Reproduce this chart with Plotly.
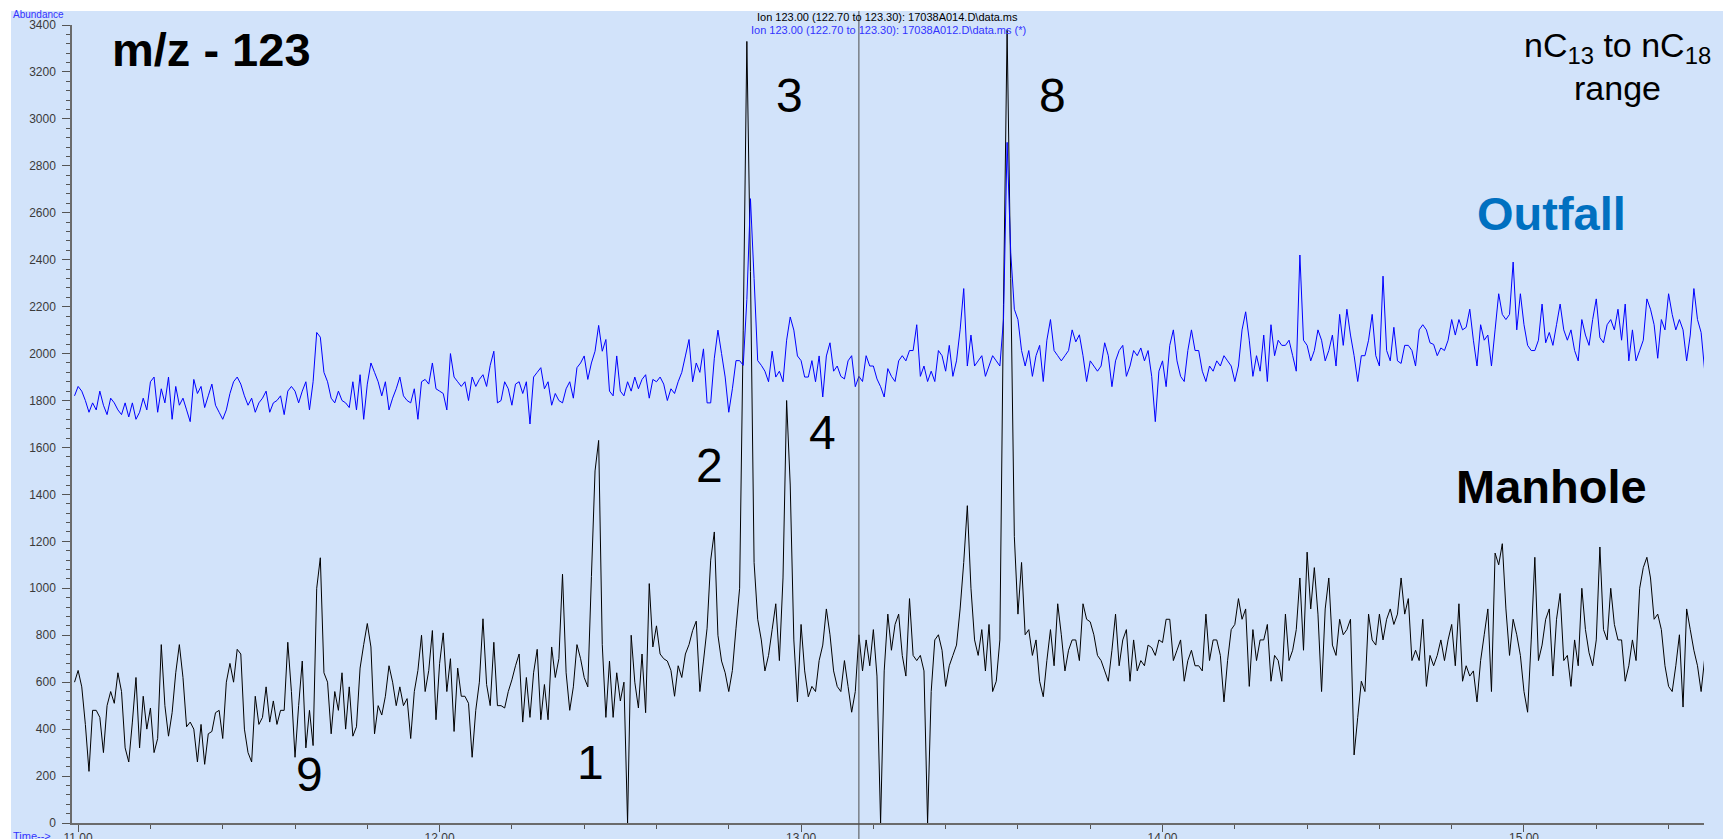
import plotly.graph_objects as go

# Extracted ion chromatogram, m/z 123 — scan time axis (min)
t_start = 10.99
t_step = 0.01

# Outfall sample (blue trace), abundance per scan
outfall = [
    1820, 1860, 1840, 1800, 1750, 1790, 1760, 1840, 1780, 1740,
    1810, 1790, 1760, 1740, 1790, 1730, 1790, 1720, 1750, 1810,
    1760, 1880, 1900, 1750, 1850, 1790, 1900, 1720, 1860, 1780,
    1810, 1760, 1710, 1890, 1830, 1860, 1770, 1820, 1870, 1780,
    1750, 1720, 1760, 1830, 1880, 1900, 1870, 1820, 1780, 1810,
    1750, 1790, 1810, 1840, 1750, 1790, 1800, 1820, 1740, 1840,
    1860, 1840, 1790, 1840, 1880, 1760, 1880, 2090, 2070, 1920,
    1880, 1810, 1790, 1840, 1800, 1790, 1770, 1880, 1760, 1910,
    1720, 1870, 1960, 1920, 1880, 1820, 1880, 1760, 1810, 1850,
    1900, 1820,
    1800, 1790, 1850, 1720, 1880, 1890, 1870, 1960, 1850, 1840,
    1830, 1760, 2000, 1900, 1880, 1860, 1880, 1800, 1900, 1860,
    1890, 1910, 1860, 1950, 2010, 1790, 1800, 1880, 1850, 1780,
    1870, 1880, 1830, 1880, 1700, 1900, 1920, 1940, 1850, 1880,
    1780, 1830, 1800, 1790, 1850, 1880, 1810, 1940, 1960, 1990,
    1890, 1960, 2010, 2120, 2010, 2060, 1840, 1820, 1990, 1840,
    1820, 1880, 1840, 1900, 1850, 1890, 1910, 1810, 1890, 1880,
    1900, 1870, 1800, 1850, 1830, 1880, 1920, 1990, 2060, 1880,
    1960, 1920, 2020, 1790, 1790, 1980, 2100, 2000, 1900, 1750,
    1850, 1970, 1970,
    1950, 2230, 2660, 2320, 1970, 1950, 1925, 1880, 2010, 1900,
    1925, 1880, 2057, 2156, 2100, 1990, 1970, 1900, 1900, 1970,
    1880, 1990, 1815, 1990, 2046, 1925, 1947, 1903, 1892, 1969,
    1991, 1859, 1903, 1881, 1991, 1947, 1947, 1892, 1859, 1815,
    1936, 1903, 1881, 1969, 1991, 1969, 2013, 2013, 2123, 1903,
    1947, 1881, 1925, 1881, 2013, 1991, 1925, 2035, 1903, 1969,
    2101, 2277, 1947, 2079, 1947, 1969, 1991, 1903, 1947, 1991,
    1969, 1947, 2145, 2900, 2431, 2189, 2145, 2013, 1947, 2013,
    1903, 1991, 2035, 1881, 2057, 2145, 2013, 1991, 1969, 1991,
    2013, 2101,
    2050, 2080, 1991, 1881, 1969, 1947, 1925, 1947, 2046, 1991,
    1859, 1969, 2013, 2035, 1903, 1947, 2013, 1991, 2024, 1969,
    2013, 1903, 1710, 1925, 1969, 1859, 2035, 2101, 1969, 1903,
    1881, 2013, 2101, 2013, 2013, 1925, 1881, 1947, 1925, 1969,
    1947, 1991, 1969, 1947, 1881, 1947, 2101, 2178, 2057, 1903,
    1991, 1925, 2079, 1881, 2123, 1991, 2057, 2035, 2035, 2057,
    1991, 1925, 2420, 2057, 2035, 1969, 2013, 2101, 2057, 1969,
    2013, 2079, 1947, 2167, 2035, 2189, 2079, 1991, 1881, 1991,
    1991, 2057, 2167, 1991, 1947, 2330, 2013, 1969, 2112, 1969,
    1958, 2035, 2035,
    2013, 1947, 2101, 2123, 2101, 2046, 2039, 1991, 2024, 2013,
    2057, 2145, 2079, 2145, 2101, 2112, 2189, 2057, 1947, 2123,
    2057, 2079, 1947, 2101, 2255, 2167, 2145, 2167, 2390, 2101,
    2255, 2123, 2035, 2013, 2013, 2057, 2211, 2046, 2090, 2035,
    2123, 2211, 2101, 2057, 2101, 2013, 1969, 2145, 2079, 2035,
    2145, 2233, 2068, 2046, 2123, 2145, 2101, 2189, 2057, 2211,
    1969, 2101, 1969, 2013, 2057, 2233, 2189, 2123, 1980, 2145,
    2101, 2255, 2167, 2101, 2145, 2101, 1969, 2079, 2277, 2145,
    2090, 1925,
]

# Manhole sample (black trace), abundance per scan
manhole = [
    600, 650, 580, 420, 220, 480, 480, 450, 300, 500,
    560, 510, 640, 560, 320, 260, 430, 620, 320, 540,
    400, 490, 300, 360, 760, 500, 370, 470, 640, 760,
    620, 410, 430, 400, 260, 420, 250, 380, 390, 470,
    480, 360, 600, 680, 600, 740, 720, 400, 300, 260,
    540, 420, 450, 580, 430, 520, 420, 480, 480, 770,
    560, 280, 500, 690, 320, 480, 330, 1000, 1130, 640,
    600, 380, 560, 480, 640, 400, 580, 370, 410, 660,
    760, 850, 750, 380, 500, 460, 540, 670, 600, 500,
    580, 500,
    530, 360, 560, 650, 800, 560, 650, 820, 440, 680,
    810, 560, 700, 390, 660, 540, 540, 510, 280, 480,
    600, 870, 590, 500, 770, 500, 500, 490, 560, 610,
    670, 720, 430, 620, 450, 640, 740, 440, 590, 440,
    750, 620, 700, 1060, 640, 480, 580, 760, 700, 620,
    580, 1050, 1500, 1630, 760, 450, 690, 450, 640, 520,
    600, 0, 800, 600, 490, 720, 470, 1020, 750, 840,
    720, 700, 690, 650, 540, 670, 620, 720, 760, 820,
    860, 560, 690, 830, 1120, 1240, 800, 690, 640, 560,
    650, 830, 1000,
    2100, 3330, 2350, 1110, 868, 780, 648, 714, 824, 934,
    692, 1044, 1800, 1440, 780, 516, 846, 648, 538, 582,
    560, 692, 758, 912, 802, 648, 582, 560, 692, 582,
    472, 560, 802, 648, 780, 670, 824, 626, 0, 648,
    890, 736, 846, 890, 714, 626, 956, 714, 692, 714,
    648, 0, 560, 780, 802, 736, 582, 670, 714, 758,
    912, 1110, 1352, 1000, 780, 714, 824, 648, 846, 560,
    604, 780, 2210, 3380, 2320, 1220, 890, 1110, 802, 824,
    714, 780, 604, 538, 692, 824, 670, 934, 802, 648,
    736, 780,
    780, 692, 934, 868, 857, 802, 714, 692, 648, 604,
    736, 890, 670, 780, 824, 604, 780, 648, 692, 670,
    758, 747, 714, 780, 769, 868, 868, 692, 736, 780,
    604, 692, 736, 670, 670, 648, 890, 692, 780, 780,
    714, 516, 692, 824, 846, 956, 868, 912, 582, 824,
    692, 780, 780, 846, 604, 714, 692, 604, 890, 692,
    736, 824, 1044, 736, 1154, 912, 1088, 890, 560, 912,
    1044, 758, 714, 868, 802, 824, 868, 290, 450, 604,
    560, 890, 780, 758, 890, 780, 868, 912, 846, 890,
    1044, 890, 956,
    692, 736, 692, 868, 582, 714, 670, 714, 780, 692,
    780, 846, 670, 934, 604, 670, 626, 648, 516, 692,
    802, 912, 560, 1150, 1100, 1190, 912, 714, 868, 802,
    714, 560, 472, 780, 1132, 692, 758, 868, 912, 626,
    868, 978, 692, 714, 582, 780, 670, 1000, 824, 725,
    670, 780, 1176, 824, 780, 1000, 846, 780, 780, 604,
    670, 780, 692, 1000, 1088, 1132, 1044, 868, 890, 824,
    670, 582, 560, 670, 802, 494, 912, 824, 736, 670,
    560, 703,
]

times = [round(t_start + t_step * i, 2) for i in range(len(outfall))]

# Peak numbers written beside the chromatogram peaks
peak_labels = ["3", "8", "4", "2", "1", "9"]

# Figure geometry
W, H = 1723, 839
ML, MR, MT, MB = 72, 19, 25, 16
X_RANGE = [10.983, 15.498]
Y_RANGE = [0, 3400]
BG = "#d2e3fa"
FONT = "Liberation Sans, Arial, sans-serif"

PW = W - ML - MR
PH = H - MT - MB


def px(x):
    return (x - ML) / PW


def py(y):
    return (H - MB - y) / PH


fig = go.Figure()

fig.add_trace(go.Scatter(
    x=times, y=manhole, mode="lines", name="Manhole",
    line=dict(color="#000000", width=1, simplify=False),
))
fig.add_trace(go.Scatter(
    x=times, y=outfall, mode="lines", name="Outfall",
    line=dict(color="#0000ff", width=1, simplify=False),
))

fig.update_xaxes(
    range=X_RANGE, tick0=11, dtick=1, tickformat=".2f",
    ticks="outside", ticklen=7, tickwidth=1, tickcolor="#555555",
    minor=dict(dtick=0.2, tick0=11, ticks="outside", ticklen=4,
               tickwidth=1, tickcolor="#555555", showgrid=False),
    showline=True, linecolor="#6b6b6b", linewidth=1.5,
    showgrid=False, zeroline=False, automargin=False,
    ticklabelstandoff=-4,
    tickfont=dict(family=FONT, size=12, color="#3a3a3a"),
)
fig.update_yaxes(
    range=Y_RANGE, tick0=0, dtick=200,
    ticks="outside", ticklen=8, tickwidth=1, tickcolor="#555555",
    minor=dict(dtick=40, tick0=0, ticks="outside", ticklen=4,
               tickwidth=1, tickcolor="#555555", showgrid=False),
    showline=True, linecolor="#6b6b6b", linewidth=1.5,
    showgrid=False, zeroline=False, automargin=False,
    ticklabelstandoff=4,
    tickfont=dict(family=FONT, size=12, color="#3a3a3a"),
)

annotations = []


def note(text, x, y, size, color="#000000", bold=False, xanchor="center"):
    if bold:
        text = "<b>" + text + "</b>"
    annotations.append(dict(
        text=text, x=px(x), y=py(y), xref="paper", yref="paper",
        xanchor=xanchor, yanchor="middle", showarrow=False,
        font=dict(family=FONT, size=size, color=color),
    ))


note("m/z - 123", 110, 50, 47, bold=True, xanchor="left")
note("nC<sub>13</sub> to nC<sub>18</sub>", 1617, 47, 34)
note("range", 1617, 88, 34)
note("Outfall", 1551, 214, 47, color="#0070c0", bold=True)
note("Manhole", 1551, 486, 47, bold=True)
note("Ion 123.00 (122.70 to 123.30): 17038A014.D\\data.ms", 887, 17, 11)
note("Ion 123.00 (122.70 to 123.30): 17038A012.D\\data.ms (*)", 888, 30, 11,
     color="#3333ff")
note("Abundance", 11, 14, 10, color="#3333ff", xanchor="left")
note("Time-->", 11, 836, 11, color="#3333ff", xanchor="left")

label_px = [789, 1052, 822, 709, 590, 309]
label_py = [95, 95, 432, 465, 762, 774]
for lab, lx, ly in zip(peak_labels, label_px, label_py):
    note(lab, lx, ly, 48)

shapes = [
    # cursor line at the selected retention time
    dict(type="line", xref="x", yref="paper", x0=13.16, x1=13.16,
         y0=py(H), y1=py(11), line=dict(color="#4d4d4d", width=1),
         layer="above"),
    # white frame strips along the top and left edges
    dict(type="rect", xref="paper", yref="paper",
         x0=px(-2), x1=px(11), y0=py(H + 2), y1=py(-2),
         fillcolor="#ffffff", line=dict(width=0), layer="above"),
    dict(type="rect", xref="paper", yref="paper",
         x0=px(-2), x1=px(W + 2), y0=py(11), y1=py(-2),
         fillcolor="#ffffff", line=dict(width=0), layer="above"),
]

fig.update_layout(
    width=W, height=H,
    margin=dict(l=ML, r=MR, t=MT, b=MB),
    paper_bgcolor=BG, plot_bgcolor=BG,
    showlegend=False,
    annotations=annotations,
    shapes=shapes,
    font=dict(family=FONT),
)

fig.write_html("out.html")
